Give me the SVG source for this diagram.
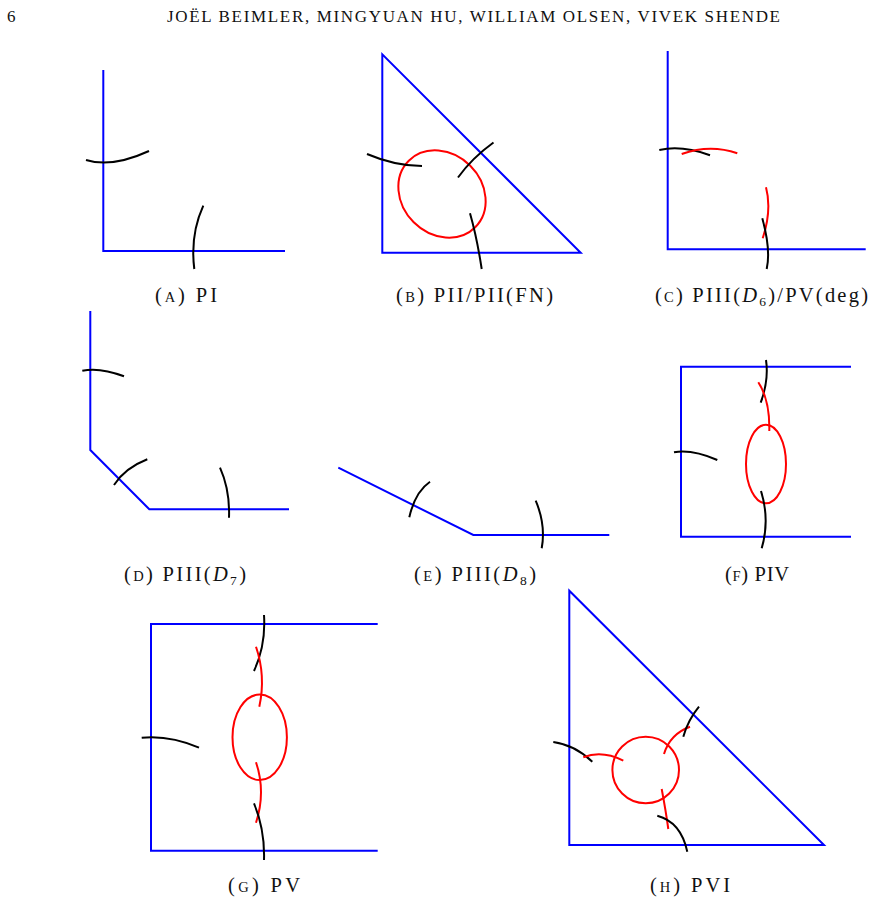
<svg xmlns="http://www.w3.org/2000/svg" width="875" height="904" viewBox="0 0 875 904">
<style>
.b{fill:none;stroke:#0000ff;stroke-width:2}
.k{fill:none;stroke:#000;stroke-width:2}
.r{fill:none;stroke:#ff0000;stroke-width:2}
text{font-family:"Liberation Serif","Times New Roman",serif;fill:#111}
.cap{font-size:20.5px}
.sc{font-size:14.5px}
.sub{font-size:13.5px}
.hd{font-size:17px}
</style>
<rect width="875" height="904" fill="#fff"/>
<g id="header">
<text class="hd" x="7" y="22">6</text>
<text class="hd" x="167" y="22" textLength="613">JOËL BEIMLER, MINGYUAN HU, WILLIAM OLSEN, VIVEK SHENDE</text>
</g>
<g id="panelA">
<polyline class="b" points="103.3,70 103.3,251 285,251"/>
<path class="k" d="M86,160 Q112,168 149,151"/>
<path class="k" d="M203.3,205.7 Q190,235 194.3,269"/>
<text class="cap" x="155" y="302" textLength="62">(<tspan class="sc">A</tspan>) PI</text>
</g>
<g id="panelB">
<polygon class="b" points="382.3,54.3 382.3,252.7 580.7,252.7"/>
<ellipse class="r" cx="442" cy="194" rx="47" ry="40" transform="rotate(45 442 194)"/>
<path class="k" d="M367,154 Q395,166 422,166"/>
<path class="k" d="M458,177.5 Q472,158 493.5,142.5"/>
<path class="k" d="M470,213.3 Q477,238 481.7,269"/>
<text class="cap" x="396" y="302" textLength="157">(<tspan class="sc">B</tspan>) PII/PII(FN)</text>
</g>
<g id="panelC">
<polyline class="b" points="667.7,51 667.7,249.3 865.7,249.3"/>
<path class="k" d="M659.3,150 Q682,145 710,155.3"/>
<path class="r" d="M681.7,154 Q710,144 737.3,153.3"/>
<path class="r" d="M766,187.3 Q772,210 762.7,238.3"/>
<path class="k" d="M762.3,218.3 Q771,250 766.7,269"/>
<text class="cap" x="655" y="302" textLength="213">(<tspan class="sc">C</tspan>) PIII(<tspan font-style="italic">D</tspan><tspan class="sub" dy="4">6</tspan><tspan dy="-4">)/PV(deg)</tspan></text>
</g>
<g id="panelD">
<polyline class="b" points="90.3,311 90.3,450 149.3,509.3 289,509.3"/>
<path class="k" d="M82.3,370.7 Q100,367 124,376.3"/>
<path class="k" d="M114,485 Q125,468 147.3,459.3"/>
<path class="k" d="M220,467.7 Q230,490 229,517.7"/>
<text class="cap" x="124" y="581" textLength="122">(<tspan class="sc">D</tspan>) PIII(<tspan font-style="italic">D</tspan><tspan class="sub" dy="4">7</tspan><tspan dy="-4">)</tspan></text>
</g>
<g id="panelE">
<polyline class="b" points="338.3,467.7 473.3,535 609.3,535"/>
<path class="k" d="M430,481.7 Q415,492 409.3,517.3"/>
<path class="k" d="M535.7,500.7 Q546,525 541.7,548.3"/>
<text class="cap" x="414" y="581" textLength="122">(<tspan class="sc">E</tspan>) PIII(<tspan font-style="italic">D</tspan><tspan class="sub" dy="4">8</tspan><tspan dy="-4">)</tspan></text>
</g>
<g id="panelF">
<polyline class="b" points="851,366.7 681,366.7 681,536.7 851,536.7"/>
<ellipse class="r" cx="766" cy="464" rx="20" ry="39.3"/>
<path class="k" d="M766,360 Q769,380 760.7,402.7"/>
<path class="r" d="M758.3,382.3 Q770,400 769.3,431"/>
<path class="k" d="M674,452.3 Q692,449 717.3,460"/>
<path class="k" d="M761,491 Q770,520 761.7,548.3"/>
<text class="cap" x="725" y="581" textLength="64">(<tspan class="sc">F</tspan>) PIV</text>
</g>
<g id="panelG">
<polyline class="b" points="377.7,624 151,624 151,850.7 377.7,850.7"/>
<ellipse class="r" cx="259.7" cy="737.3" rx="27.2" ry="42.8"/>
<path class="k" d="M264,615 Q266,645 254,671"/>
<path class="r" d="M256,646.7 Q266,676 259.3,706.7"/>
<path class="r" d="M256,762.3 Q266,792 256,822.7"/>
<path class="k" d="M254,803.3 Q265,830 264,860"/>
<path class="k" d="M141.7,737.7 Q170,735 199,747.7"/>
<text class="cap" x="228" y="892" textLength="72">(<tspan class="sc">G</tspan>) PV</text>
</g>
<g id="panelH">
<polygon class="b" points="569.3,590.7 569.3,845 824,845"/>
<circle class="r" cx="645.7" cy="770" r="33.3"/>
<path class="k" d="M553.3,742 Q575,745 592.3,761.7"/>
<path class="r" d="M583.3,757.3 Q602,750 623.3,760.7"/>
<path class="r" d="M664,754 Q670,734 690,726.7"/>
<path class="k" d="M683.3,736.7 Q688,720 699,706.7"/>
<path class="r" d="M661.7,789 Q666,812 668.3,829"/>
<path class="k" d="M657.3,815.7 Q681,822 687.3,851.7"/>
<text class="cap" x="650" y="892" textLength="80">(<tspan class="sc">H</tspan>) PVI</text>
</g>
</svg>
